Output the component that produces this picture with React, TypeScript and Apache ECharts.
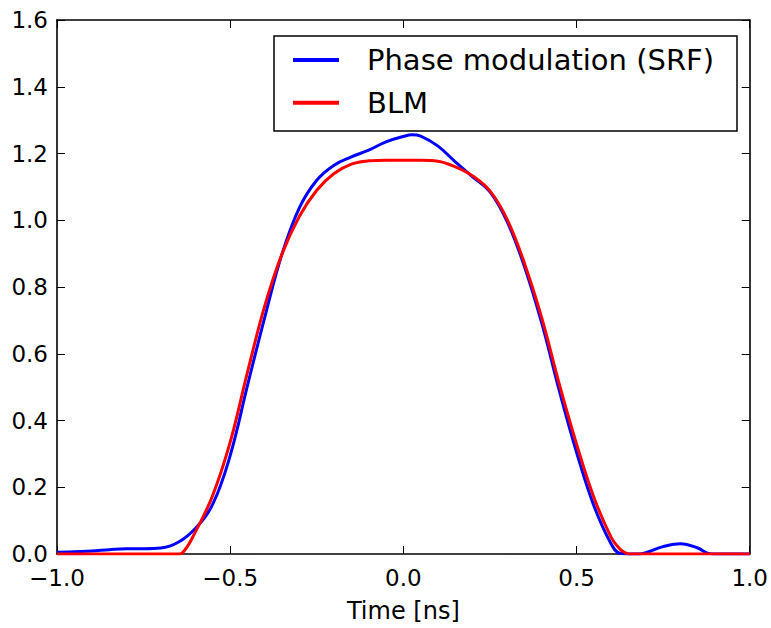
import React, { useEffect, useRef } from "react";
import * as echarts from "echarts";

// Time axis (ns) and values
const phaseTime = [-1.0, -0.95, -0.9, -0.85, -0.8, -0.75, -0.7, -0.65, -0.6, -0.55, -0.5, -0.45, -0.4, -0.35, -0.3, -0.25, -0.2, -0.15, -0.1, -0.05, 0.0, 0.025, 0.05, 0.1, 0.15, 0.2, 0.25, 0.3, 0.35, 0.4, 0.45, 0.5, 0.55, 0.6, 0.625, 0.65, 0.68, 0.7, 0.75, 0.8, 0.85, 0.88, 0.9, 0.95, 1.0];
const phaseValues = [0.005, 0.007, 0.009, 0.013, 0.016, 0.016, 0.018, 0.035, 0.077, 0.15, 0.295, 0.505, 0.71, 0.9, 1.038, 1.12, 1.165, 1.19, 1.21, 1.235, 1.251, 1.256, 1.252, 1.222, 1.175, 1.13, 1.085, 0.995, 0.86, 0.69, 0.49, 0.305, 0.145, 0.03, 0.002, 0.0, 0.0, 0.004, 0.022, 0.031, 0.018, 0.002, 0.0, 0.0, 0.0];

const blmTime = [-1.0, -0.9, -0.8, -0.7, -0.65, -0.64, -0.6, -0.55, -0.5, -0.45, -0.4, -0.35, -0.3, -0.25, -0.2, -0.15, -0.1, -0.05, 0.0, 0.05, 0.1, 0.15, 0.2, 0.25, 0.3, 0.35, 0.4, 0.45, 0.5, 0.55, 0.6, 0.625, 0.64, 0.65, 0.7, 0.8, 0.9, 1.0];
const blmValues = [0.0, 0.0, 0.0, 0.0, 0.0, 0.002, 0.067, 0.177, 0.335, 0.545, 0.744, 0.9, 1.012, 1.09, 1.14, 1.168, 1.178, 1.18, 1.18, 1.18, 1.177, 1.16, 1.133, 1.088, 1.002, 0.87, 0.706, 0.51, 0.33, 0.17, 0.05, 0.015, 0.004, 0.0, 0.0, 0.0, 0.0, 0.0];

const seriesNames = ["Phase modulation (SRF)", "BLM"];
const xTicks = { min: -1, max: 1, interval: 0.5 };
const yTicks = { min: 0, max: 1.6, interval: 0.2 };
const xLabel = "Time [ns]";

const FONT = "DejaVu Sans";
const fmt = (v: number) => {
  const s = Math.abs(v).toFixed(1);
  return v < -1e-9 ? "\u2212" + s : s;
};

export default function App() {
  const ref = useRef<HTMLDivElement>(null);
  useEffect(() => {
    if (!ref.current) return;
    const chart = echarts.init(ref.current, undefined, { renderer: "svg" });
    const axisLine = { show: true, onZero: false, lineStyle: { color: "#000", width: 1.6 } };
    const axisTick = { show: true, inside: true, length: 8, lineStyle: { color: "#000", width: 1 } };
    const phaseData = phaseTime.map((t, i) => [t, phaseValues[i]]);
    const blmData = blmTime.map((t, i) => [t, blmValues[i]]);
    chart.setOption({
      animation: false,
      backgroundColor: "#fff",
      grid: { left: 57, top: 20, width: 695, height: 538, containLabel: false },
      xAxis: [
        {
          type: "value",
          position: "bottom",
          ...xTicks,
          axisLine,
          axisTick,
          splitLine: { show: false },
          axisLabel: { show: true, formatter: fmt, color: "#000", fontFamily: FONT, fontSize: 23, margin: 12 },
          name: xLabel,
          nameLocation: "middle",
          nameGap: 45,
          nameTextStyle: { color: "#000", fontFamily: FONT, fontSize: 24 },
        },
        {
          type: "value",
          position: "top",
          ...xTicks,
          axisLine,
          axisTick,
          splitLine: { show: false },
          axisLabel: { show: false },
        },
      ],
      yAxis: [
        {
          type: "value",
          position: "left",
          ...yTicks,
          axisLine,
          axisTick,
          splitLine: { show: false },
          axisLabel: { show: true, formatter: fmt, color: "#000", fontFamily: FONT, fontSize: 23, margin: 9 },
        },
        {
          type: "value",
          position: "right",
          ...yTicks,
          axisLine,
          axisTick,
          splitLine: { show: false },
          axisLabel: { show: false },
        },
      ],
      graphic: [
        {
          type: "rect",
          z: 9,
          shape: { x: 274, y: 36, width: 463, height: 95 },
          style: { fill: "#fff", stroke: "#000", lineWidth: 1.5 },
        },
      ],
      legend: {
        z: 10,
        orient: "vertical",
        left: 293,
        top: 45,
        padding: 0,
        itemGap: 12.7,
        itemWidth: 46,
        itemHeight: 4,
        icon: "rect",
        textStyle: { color: "#000", fontFamily: FONT, fontSize: 29, lineHeight: 30, padding: [0, 0, 0, 23] },
        data: seriesNames,
      },
      series: [
        {
          name: seriesNames[0],
          type: "line",
          data: phaseData,
          showSymbol: false,
          smooth: 0.4,
          lineStyle: { color: "#0000ff", width: 3 },
          itemStyle: { color: "#0000ff" },
          z: 2,
        },
        {
          name: seriesNames[1],
          type: "line",
          data: blmData,
          showSymbol: false,
          smooth: 0.4,
          lineStyle: { color: "#ff0000", width: 3 },
          itemStyle: { color: "#ff0000" },
          z: 3,
        },
      ],
    });
    return () => chart.dispose();
  }, []);
  return <div ref={ref} style={{ position: "fixed", left: 0, top: 0, width: 771, height: 628 }} />;
}
